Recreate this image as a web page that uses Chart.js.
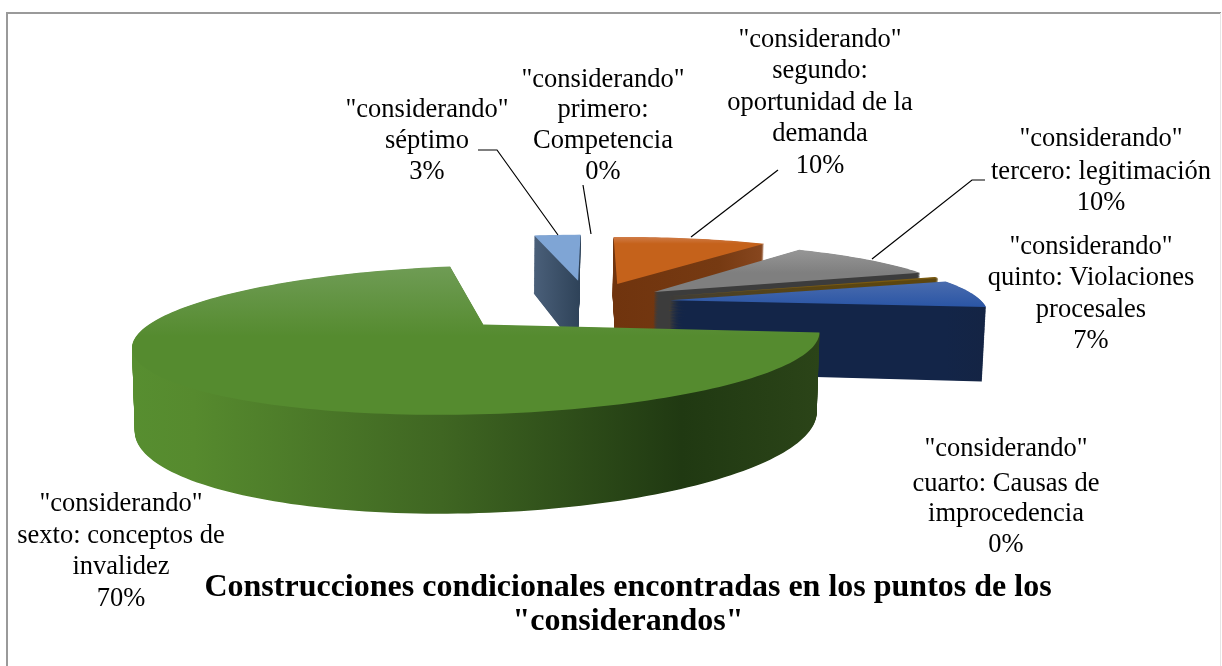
<!DOCTYPE html>
<html lang="es">
<head>
<meta charset="utf-8">
<title>Construcciones condicionales</title>
<script src="https://cdn.jsdelivr.net/npm/chart.js@4"></script>
<style>html,body{margin:0;padding:0;background:#fff}canvas{display:block}</style>
</head>
<body>
<canvas id="c" width="1222" height="666"></canvas>
<script>
// ---- data ----
const categories = ['"considerando" primero: Competencia','"considerando" segundo: oportunidad de la demanda','"considerando" tercero: legitimación','"considerando" cuarto: Causas de improcedencia','"considerando" quinto: Violaciones procesales','"considerando" sexto: conceptos de invalidez','"considerando" séptimo'];
const values = [0, 10, 10, 0.4, 7, 70, 3];
const labelLines = [
  ['"considerando"','primero:','Competencia'],
  ['"considerando"','segundo:','oportunidad de la','demanda'],
  ['"considerando"','tercero: legitimación'],
  ['"considerando"','cuarto: Causas de','improcedencia'],
  ['"considerando"','quinto: Violaciones','procesales'],
  ['"considerando"','sexto: conceptos de','invalidez'],
  ['"considerando"','séptimo']
];
const titleLines = ['Construcciones condicionales encontradas en los puntos de los','"considerandos"'];

// ---- styling, kept apart from the data ----
const sliceColors = ['#ffffff','#c8651f','#858585','#7a5a10','#2a55a5','#558b2f','#86a8d6'];
const topStops = [
  ['#ffffff','#ffffff'],['#d07c48','#c5621b'],['#969696','#7f7f7f'],['#7a5a10','#7a5a10'],
  ['#4a6cae','#2a55a5'],['#6f9c55','#558b2f'],['#9ab8dd','#7fa5d5']
];
const wallStops = [
  [[0,'#ffffff'],[1,'#ffffff']],
  [[0,'#70340e'],[0.7,'#763a12'],[1,'#88471f']],
  [[0,'#3c3c3c'],[1,'#3c3c3c']],
  [[0,'#5c4610'],[1,'#5c4610']],
  [[0,'#132548'],[1,'#142444']],
  [[0,'#578e30'],[0.09,'#568a2e'],[0.45,'#3f6622'],[0.8,'#203912'],[1,'#2b4418']],
  [[0,'#4a5f79'],[1,'#2e4258']]
];
const drawOrder = [6,0,1,2,3,4,5];
const explode = [0.37,0.32,0.27,0.265,0.265,0.45,0.37]; // pulled-out distance, share of the radius
const camera = {vx:650, vy:-19, focalX:1670, focalY:1750, centerX:-0.203, centerW:5.451, radius:1.02, radiusV:1.04, depth:0.228, converge:0.008, nadirX:480};
const labelPlaces = [
  {x:603,ys:[80,110,141,172]},
  {x:820,ys:[40,71,103,134,166]},
  {x:1101,ys:[139,172,203]},
  {x:1006,ys:[449,484,514,545]},
  {x:1091,ys:[247,278,310,341]},
  {x:121,ys:[504,536,567,599]},
  {x:427,ys:[110,141,172]}
];
const leaders = [
  [[583,185],[591,234]],
  [[778,170],[691,237]],
  [[985,180],[972,180],[872,259]],
  [],[],[],
  [[478,150],[497,150],[558,235]]
];

// Wraps the context so the arc element's own path goes through the camera.
function cameraContext(real, project){
  let tx=0, ty=0; const stack=[];
  const put=(x,y)=>{const p=project(x+tx,y+ty); real.lineTo(p[0],p[1]);};
  const api={
    save(){stack.push([tx,ty]);},
    restore(){const s=stack.pop(); tx=s[0]; ty=s[1];},
    translate(x,y){tx+=x; ty+=y;},
    beginPath(){real.beginPath();},
    moveTo(x,y){const p=project(x+tx,y+ty); real.moveTo(p[0],p[1]);},
    lineTo:put,
    arc(x,y,r,a0,a1,ccw){
      let d=a1-a0;
      if(ccw && d>0) d-=Math.PI*2;
      const n=Math.max(2,Math.ceil(Math.abs(d)*40));
      for(let i=0;i<=n;i++){const a=a0+d*i/n; put(x+r*Math.cos(a),y+r*Math.sin(a));}
    },
    closePath(){real.closePath();},
    fill(){real.fill();}
  };
  return new Proxy(api,{get:(t,k)=>t[k]||(()=>{}),set:()=>true});
}

function linear(ctx,x0,y0,x1,y1,stops){
  const g=ctx.createLinearGradient(x0,y0,x1,y1);
  stops.forEach(s=>g.addColorStop(s[0],s[1]));
  return g;
}

const pie3d={
  id:'pie3d',
  beforeDraw(chart){
    const c=chart.ctx;
    c.save();
    c.strokeStyle='#9a9a9a'; c.lineWidth=2;
    c.beginPath(); c.moveTo(7,680); c.lineTo(7,13); c.lineTo(1221,13); c.stroke();
    c.strokeStyle='#e6e6e6'; c.lineWidth=1;
    c.beginPath(); c.moveTo(1220.5,13); c.lineTo(1220.5,680); c.stroke();
    c.restore();
  },
  beforeDatasetDraw(chart){
    const c=chart.ctx, arcs=chart.getDatasetMeta(0).data, cam=camera;
    drawOrder.forEach(i=>{
      const el=arcs[i];
      if(!el || el.circumference===0 || values[i]===0) return;
      const mid=(el.startAngle+el.endAngle)/2, R=el.outerRadius, unit=cam.radius/R;
      const ex=Math.cos(mid)*explode[i]*R, ey=Math.sin(mid)*explode[i]*R;
      const at=(z)=>(px,py)=>{
        const u=(px-el.x+ex)*unit, v=(py-el.y+ey)*unit*cam.radiusV;
        const w=cam.centerW-v, x=cam.centerX+u;
        const X=cam.vx+cam.focalX*x/w;
        return [X+(cam.nadirX-X)*cam.converge*z/cam.depth, cam.vy+cam.focalY*(1+z)/w];
      };
      let minX=1e9,maxX=-1e9,minY=1e9,maxY=-1e9;
      for(let k=0;k<=40;k++){
        const a=el.startAngle+(el.endAngle-el.startAngle)*k/40;
        const p=at(0)(el.x+R*Math.cos(a),el.y+R*Math.sin(a));
        minX=Math.min(minX,p[0]);maxX=Math.max(maxX,p[0]);minY=Math.min(minY,p[1]);maxY=Math.max(maxY,p[1]);
      }
      c.save();
      c.fillStyle=linear(c,minX,0,maxX,0,wallStops[i]);
      const steps=120;
      for(let s=steps;s>0;s--){ el.draw(cameraContext(c,at(cam.depth*s/steps))); }
      const span=Math.min(maxY-minY,70);
      c.fillStyle=linear(c,0,minY,0,minY+span,topStops[i].map((col,k)=>[k,col]));
      el.draw(cameraContext(c,at(0)));
      c.restore();
    });
    return false;
  },
  afterDraw(chart){
    const c=chart.ctx, total=values.reduce((a,b)=>a+b,0);
    c.save();
    c.strokeStyle='#000'; c.lineWidth=1.2;
    leaders.forEach(l=>{
      if(!l.length) return;
      c.beginPath(); l.forEach((p,k)=>k?c.lineTo(p[0],p[1]):c.moveTo(p[0],p[1])); c.stroke();
    });
    c.fillStyle='#000'; c.font='26.5px "Liberation Serif"';
    c.textAlign='center'; c.textBaseline='middle';
    labelLines.forEach((lines,i)=>{
      const all=lines.concat(Math.round(values[i]/total*100)+'%');
      all.forEach((t,k)=>c.fillText(t,labelPlaces[i].x,labelPlaces[i].ys[k]));
    });
    c.restore();
  }
};

new Chart(document.getElementById('c'),{
  type:'pie',
  data:{labels:categories,datasets:[{data:values,backgroundColor:sliceColors,borderWidth:0}]},
  options:{
    responsive:false,animation:false,
    rotation:-2,
    radius:200,
    layout:{padding:{left:34,bottom:27}},
    plugins:{
      legend:{display:false},
      tooltip:{enabled:false},
      title:{display:true,position:'bottom',text:titleLines,color:'#000',
        font:{family:'"Liberation Serif"',size:32,weight:'bold',lineHeight:1.06},padding:0}
    }
  },
  plugins:[pie3d]
});
</script>
</body>
</html>
